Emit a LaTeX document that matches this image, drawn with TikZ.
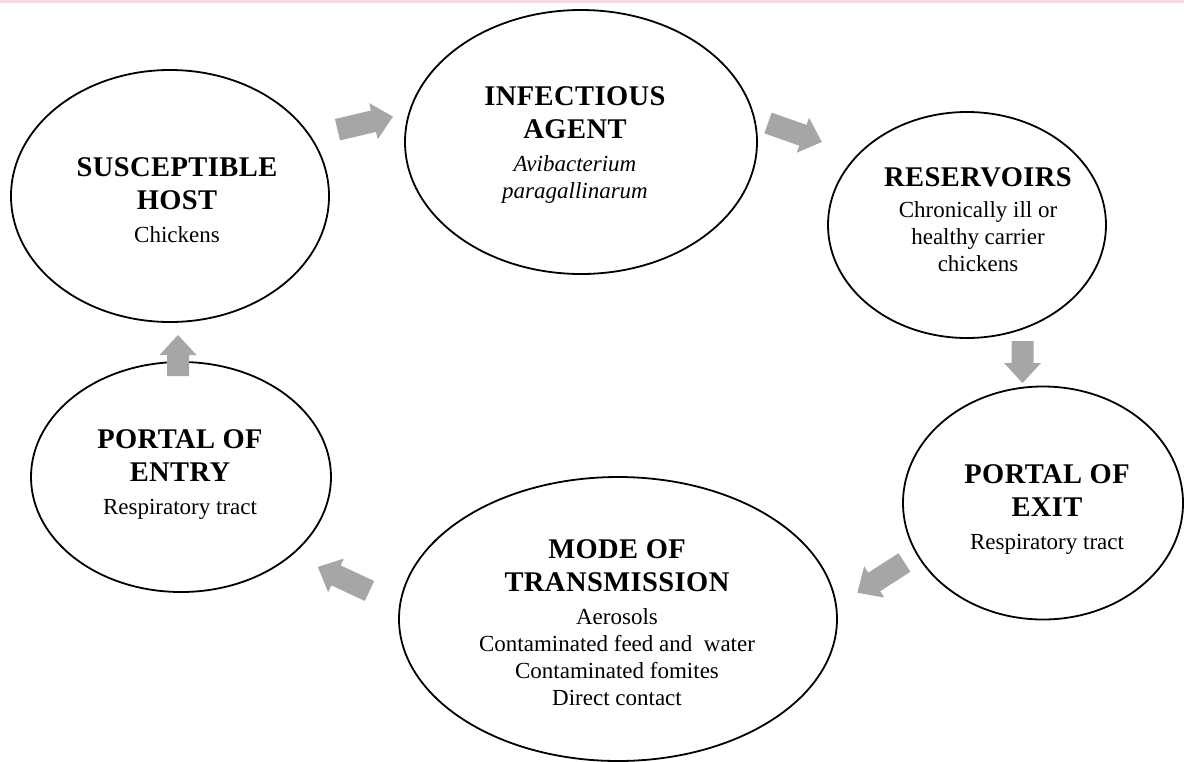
\documentclass[tikz,border=0pt]{standalone}
\usepackage{fontspec}
\setmainfont{Liberation Serif}
\newfontfamily\titlefont[LetterSpace=1.5]{Liberation Serif}
\usetikzlibrary{shapes.geometric}
\definecolor{arrowgray}{RGB}{166,166,166}
\definecolor{topline}{RGB}{248,214,232}
\newcommand\blockarr[4]{\fill[arrowgray,shift={(#1,#2)},rotate=#3] (0,-11) -- ({#4-20},-11) -- ({#4-20},-18.5) -- (#4,0) -- ({#4-20},18.5) -- ({#4-20},11) -- (0,11) -- cycle;}
\newcommand\ttl[1]{{\titlefont\fontsize{28.5}{33}\selectfont\bfseries #1}}
\tikzset{
  ring/.style={ellipse, draw, line width=1.8pt, inner sep=0pt},
  lbl/.style={align=center, font=\fontsize{23}{27}\selectfont, inner sep=0pt}
}
\begin{document}
\begin{tikzpicture}[x=1pt,y=-1pt]
\useasboundingbox (0,0) rectangle (1184,761);
\fill[white] (0,0) rectangle (1184,761);
\fill[topline] (0,0) rectangle (1184,2.5);
% ellipses
\node[ring, minimum width=318, minimum height=252] (host) at (170,196) {};
\node[ring, minimum width=352, minimum height=264] (agent) at (581,142) {};
\node[ring, minimum width=278, minimum height=226] (res) at (967,225) {};
\node[ring, minimum width=280, minimum height=233] (exit) at (1043,503) {};
\node[ring, minimum width=438, minimum height=284] (mode) at (618,619) {};
\node[ring, minimum width=300, minimum height=230] (entry) at (181,477) {};
% texts
\node[lbl] (hostT) at (177,200) {\ttl{SUSCEPTIBLE}\\[6pt]\ttl{HOST}\\[6pt]Chickens};
\node[lbl] (agentT) at (575,145) {\ttl{INFECTIOUS}\\[6pt]\ttl{AGENT}\\[6pt]\textit{Avibacterium}\\\textit{paragallinarum}};
\node[lbl] (resT) at (978,220) {\ttl{RESERVOIRS}\\[4pt]Chronically ill or\\healthy carrier\\chickens};
\node[lbl] (exitT) at (1047,510) {\ttl{PORTAL OF}\\[6pt]\ttl{EXIT}\\[6pt]Respiratory tract};
\node[lbl] (modeT) at (617,623) {\ttl{MODE OF}\\[6pt]\ttl{TRANSMISSION}\\[6pt]Aerosols\\Contaminated feed and\ \ water\\Contaminated fomites\\Direct contact};
\node[lbl] (entryT) at (180,475) {\ttl{PORTAL OF}\\[6pt]\ttl{ENTRY}\\[6pt]Respiratory tract};
% block arrows
\blockarr{337.5}{129.7}{13.3}{57}
\blockarr{768}{123}{-19.4}{57}
\blockarr{1022.5}{341}{-90}{42}
\blockarr{904.5}{562.5}{-147.3}{56}
\blockarr{369.5}{591}{155}{57}
\blockarr{178}{376}{90}{41}
\end{tikzpicture}
\end{document}
